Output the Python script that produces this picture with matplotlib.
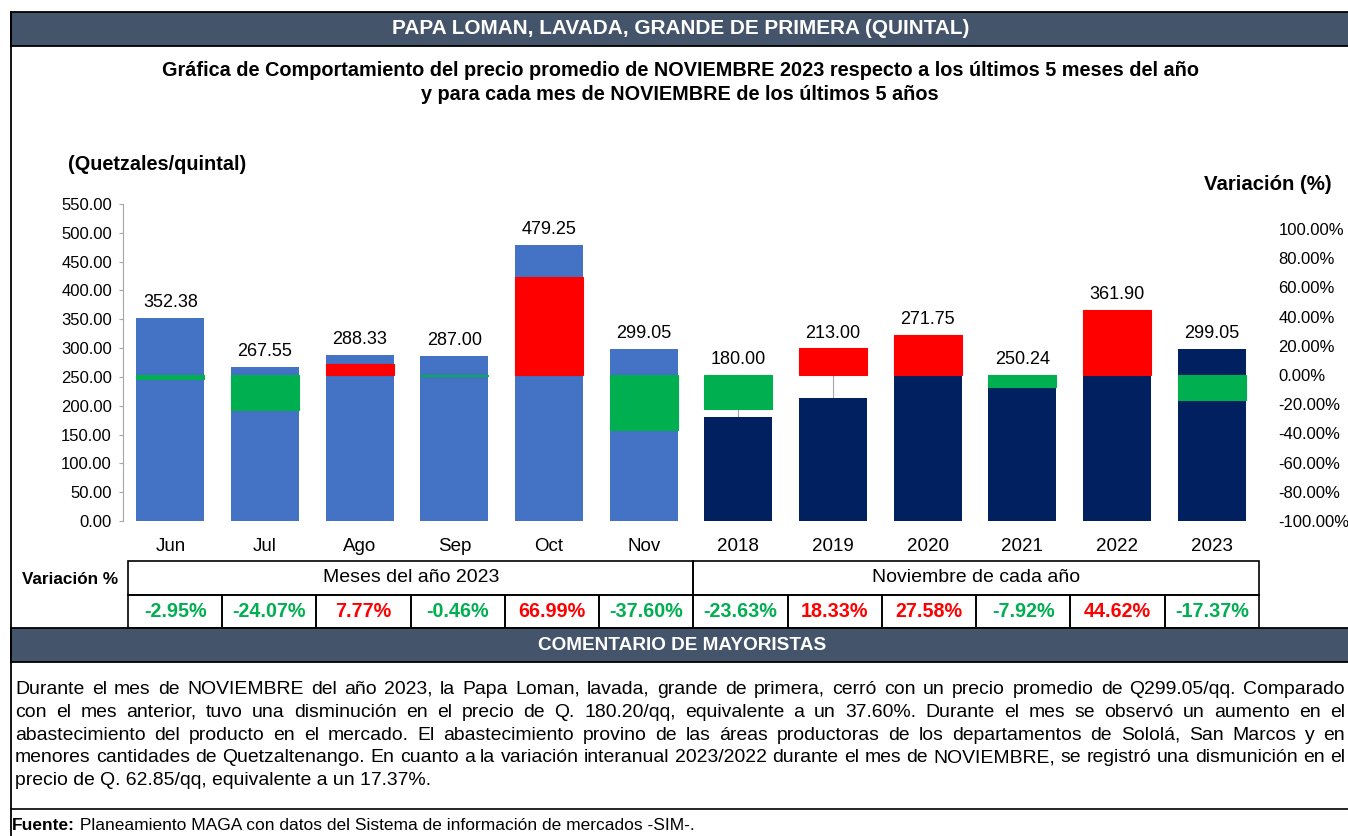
import matplotlib
matplotlib.use('Agg')
import matplotlib.pyplot as plt
import numpy as np
from matplotlib.patches import Rectangle

plt.rcParams['font.family'] = ['Liberation Sans', 'DejaVu Sans']

# ---------------- data ----------------
categories = ["Jun", "Jul", "Ago", "Sep", "Oct", "Nov",
              "2018", "2019", "2020", "2021", "2022", "2023"]
prices = [352.38, 267.55, 288.33, 287.00, 479.25, 299.05,
          180.00, 213.00, 271.75, 250.24, 361.90, 299.05]
variations = [-2.95, -24.07, 7.77, -0.46, 66.99, -37.60,
              -23.63, 18.33, 27.58, -7.92, 44.62, -17.37]
group_labels = ["Meses del año 2023", "Noviembre de cada año"]
left_ticks = [0, 50, 100, 150, 200, 250, 300, 350, 400, 450, 500, 550]
right_ticks = [-100, -80, -60, -40, -20, 0, 20, 40, 60, 80, 100]

title = "PAPA LOMAN, LAVADA, GRANDE DE PRIMERA (QUINTAL)"
subtitle_lines = [
    "Gráfica de Comportamiento del precio promedio de NOVIEMBRE 2023 respecto a los últimos 5 meses del año",
    "y para cada mes de NOVIEMBRE de los últimos 5 años",
]
y_left_title = "(Quetzales/quintal)"
y_right_title = "Variación (%)"
table_row_title = "Variación %"
comment_title = "COMENTARIO DE MAYORISTAS"
comment_lines = [
    "Durante el mes de NOVIEMBRE del año 2023, la Papa Loman, lavada, grande de primera, cerró con un precio promedio de Q299.05/qq. Comparado",
    "con el mes anterior, tuvo una disminución en el precio de Q. 180.20/qq, equivalente a un 37.60%. Durante el mes se observó un aumento en el",
    "abastecimiento del producto en el mercado. El abastecimiento provino de las áreas productoras de los departamentos de Sololá, San Marcos y en",
    "menores cantidades de Quetzaltenango. En cuanto a la variación interanual 2023/2022 durante el mes de NOVIEMBRE, se registró una dismunición en el",
    "precio de Q. 62.85/qq, equivalente a un 17.37%.",
]
source_bold = "Fuente:"
source_text = " Planeamiento MAGA con datos del Sistema de información de mercados -SIM-."

# ---------------- styles ----------------
W, H = 1348, 836
BAND = '#44546A'
BLUE = '#4472C4'
NAVY = '#002060'
RED = '#FF0000'
GREEN = '#00B050'
GRAY = '#A6A6A6'

fig = plt.figure(figsize=(W / 100, H / 100), dpi=100)
renderer = fig.canvas.get_renderer()

# decoration layer in pixel coordinates (x right, y down)
deco = fig.add_axes([0, 0, 1, 1])
deco.set_xlim(0, W)
deco.set_ylim(H, 0)
deco.axis('off')
deco.set_zorder(-1)


def px_axes(x0, y0, x1, y1):
    return fig.add_axes([x0 / W, 1 - y1 / H, (x1 - x0) / W, (y1 - y0) / H])


def text_width(s, fs, **kw):
    t = deco.text(0, 0, s, fontsize=fs, **kw)
    w = t.get_window_extent(renderer=renderer).width
    t.remove()
    return w


def fit_text(x, y, s, width, ha='center', **kw):
    w = text_width(s, 10, **kw)
    fs = 10 * width / w
    return deco.text(x, y, s, ha=ha, va='center', fontsize=fs, **kw), fs


# header band
deco.add_patch(Rectangle((11, 12), W, 34, facecolor=BAND, edgecolor='black', lw=1.3))
fit_text(681, 29, title, 575, color='white', fontweight='bold')
# left border
deco.plot([11, 11], [12, H], color='black', lw=1.3)

# subtitle
fit_text(680, 71, subtitle_lines[0], 1035, fontweight='bold')
fit_text(680, 95, subtitle_lines[1], 1035 * text_width(subtitle_lines[1], 10, fontweight='bold') /
         text_width(subtitle_lines[0], 10, fontweight='bold'), fontweight='bold')

fit_text(68, 165, y_left_title, 178, ha='left', fontweight='bold')
fit_text(1204, 184, y_right_title, 128, ha='left', fontweight='bold')

# ---------------- main chart ----------------
ax = px_axes(123, 204, 1259, 521)
x = np.arange(len(categories))
price_colors = [BLUE] * 6 + [NAVY] * 6
ax.bar(x, prices, width=0.72, color=price_colors, zorder=2)
ax.set_xlim(-0.5, 11.5)
ax.set_ylim(0, 550)
ax.set_yticks(left_ticks)
ax.set_yticklabels([f"{v:.2f}" for v in left_ticks])
ax.tick_params(axis='y', direction='out', length=3, width=0.8, color=GRAY, pad=5, labelsize=12)
ax.set_xticks(x)
ax.set_xticklabels(categories)
ax.tick_params(axis='x', length=0, pad=12, labelsize=13.5)
for s in ['top', 'right', 'bottom']:
    ax.spines[s].set_visible(False)
ax.spines['left'].set_color(GRAY)
ax.patch.set_visible(False)

ax2 = ax.twinx()
ax2.set_ylim(-100, 117.1)
var_colors = [RED if v > 0 else GREEN for v in variations]
ax2.bar(x, variations, width=0.72, color=var_colors, edgecolor=var_colors, lw=0.8, zorder=3)
ax2.set_yticks(right_ticks)
ax2.set_yticklabels([f"{v:.2f}%" for v in right_ticks])
ax2.tick_params(axis='y', length=0, pad=14, labelsize=12)
for s in ax2.spines.values():
    s.set_visible(False)

# data labels
for i, (p, v) in enumerate(zip(prices, variations)):
    var_top = ax2.transData.transform((i, max(v, 0)))[1]
    price_top = ax.transData.transform((i, p))[1]
    anchor = max(var_top, price_top)
    label_y = ax.transData.inverted().transform((0, anchor + 10.5))[1]
    anchor_y = ax.transData.inverted().transform((0, anchor))[1]
    ax2.text(i, label_y, f"{p:.2f}", transform=ax.transData, ha='center', va='baseline',
             fontsize=13, zorder=5)
    if anchor - price_top > 3:
        ax.plot([i, i], [p, anchor_y], color=GRAY, lw=0.8, zorder=1)

# ---------------- table ----------------
fit_text(70, 579, table_row_title, 96, fontweight='bold')
tax = px_axes(128, 561, 1259, 628)
tax.set_xlim(0, 12)
tax.set_ylim(0, 2)
tax.axis('off')
for g, lbl in enumerate(group_labels):
    tax.add_patch(Rectangle((g * 6, 1), 6, 1, fill=False, edgecolor='black', lw=1.2, clip_on=False))
    tax.text(g * 6 + 3, 1.5, lbl, ha='center', va='center', fontsize=14)
for i, v in enumerate(variations):
    tax.add_patch(Rectangle((i, 0), 1, 1, fill=False, edgecolor='black', lw=1.2, clip_on=False))
    tax.text(i + 0.5, 0.5, f"{v:.2f}%", ha='center', va='center', fontsize=14.2,
             fontweight='bold', color=RED if v > 0 else GREEN)

# ---------------- comment ----------------
deco.add_patch(Rectangle((11, 628), W, 34, facecolor=BAND, edgecolor='black', lw=1.3))
fit_text(682, 645, comment_title, 288, color='white', fontweight='bold')

x0, x1 = 15, 1345
nat = max(text_width(l, 10) for l in comment_lines[:-1])
cfs = 10 * (x1 - x0 - 2) / nat
for k, line in enumerate(comment_lines):
    yb = 694 + 22.8 * k
    if k == len(comment_lines) - 1:
        deco.text(x0, yb, line, ha='left', va='baseline', fontsize=cfs)
        continue
    words = line.split()
    widths = [text_width(w_, cfs) for w_ in words]
    gap = (x1 - x0 - sum(widths)) / (len(words) - 1)
    cx = x0
    for w_, ww in zip(words, widths):
        deco.text(cx, yb, w_, ha='left', va='baseline', fontsize=cfs)
        cx += ww + gap

deco.plot([11, W], [809, 809], color='black', lw=1.2)

t_b, ffs = fit_text(12, 826, source_bold, 63, ha='left', fontweight='bold')
bw = text_width(source_bold, ffs, fontweight='bold')
deco.text(12 + bw, 826, source_text, ha='left', va='center', fontsize=ffs)

fig.savefig('out.png', dpi=100)
